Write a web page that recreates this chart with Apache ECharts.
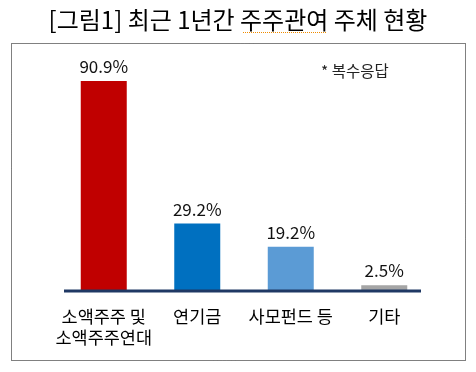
<!DOCTYPE html>
<html><head><meta charset="utf-8">
<script src="https://cdn.jsdelivr.net/npm/echarts@6/dist/echarts.min.js"></script>
<style>html,body{margin:0;padding:0;background:#fff}#c{width:476px;height:372px}</style>
</head><body><div id="c"></div>
<script>
const categories = ['소액주주 및\n소액주주연대', '연기금', '사모펀드 등', '기타'];
const values = [90.9, 29.2, 19.2, 2.5];
const colors = ['#C00000', '#0070C0', '#5B9BD5', '#A5A5A5'];
const titleText = '[그림1] 최근 1년간 주주관여 주체 현황';
const noteText = '* 복수응답';

const font = '"Noto Sans CJK KR", "Noto Sans", sans-serif';
const chart = echarts.init(document.getElementById('c'));
chart.setOption({
  animation: false,
  backgroundColor: '#fff',
  title: {
    text: titleText, left: 'center', top: 3,
    textStyle: { fontFamily: font, fontSize: 24, fontWeight: 'normal', color: '#000' }
  },
  grid: { left: 57, right: 45, top: 60, bottom: 81 },
  xAxis: {
    type: 'category', data: categories,
    axisLine: { show: false }, axisTick: { show: false },
    axisLabel: { fontFamily: font, fontSize: 17.5, color: '#000', lineHeight: 21, margin: 15, interval: 0 }
  },
  yAxis: { type: 'value', min: 0, max: 100, show: false, splitLine: { show: false } },
  series: [{
    type: 'bar', barWidth: 46,
    data: values.map((v, i) => ({ value: v, itemStyle: { color: colors[i] } })),
    label: { show: true, position: 'top', distance: 6, formatter: p => p.value + '%',
      fontFamily: font, fontSize: 17, color: '#111' }
  }],
  graphic: [
    { type: 'rect', shape: { x: 11.5, y: 43.5, width: 454, height: 317 },
      style: { fill: 'none', stroke: '#000', lineWidth: 1, lineDash: [1, 1] }, silent: true },
    { type: 'line', shape: { x1: 64, y1: 291, x2: 421, y2: 291 },
      style: { stroke: '#1F3864', lineWidth: 3 }, z: 10 },
    { type: 'line', shape: { x1: 243, y1: 32.5, x2: 326, y2: 32.5 },
      style: { stroke: '#F08C00', lineWidth: 1, lineDash: [1, 1] } },
    { type: 'text', left: 321, top: 63,
      style: { text: noteText, font: '15.5px ' + font, fill: '#222' } }
  ]
});
</script></body></html>
